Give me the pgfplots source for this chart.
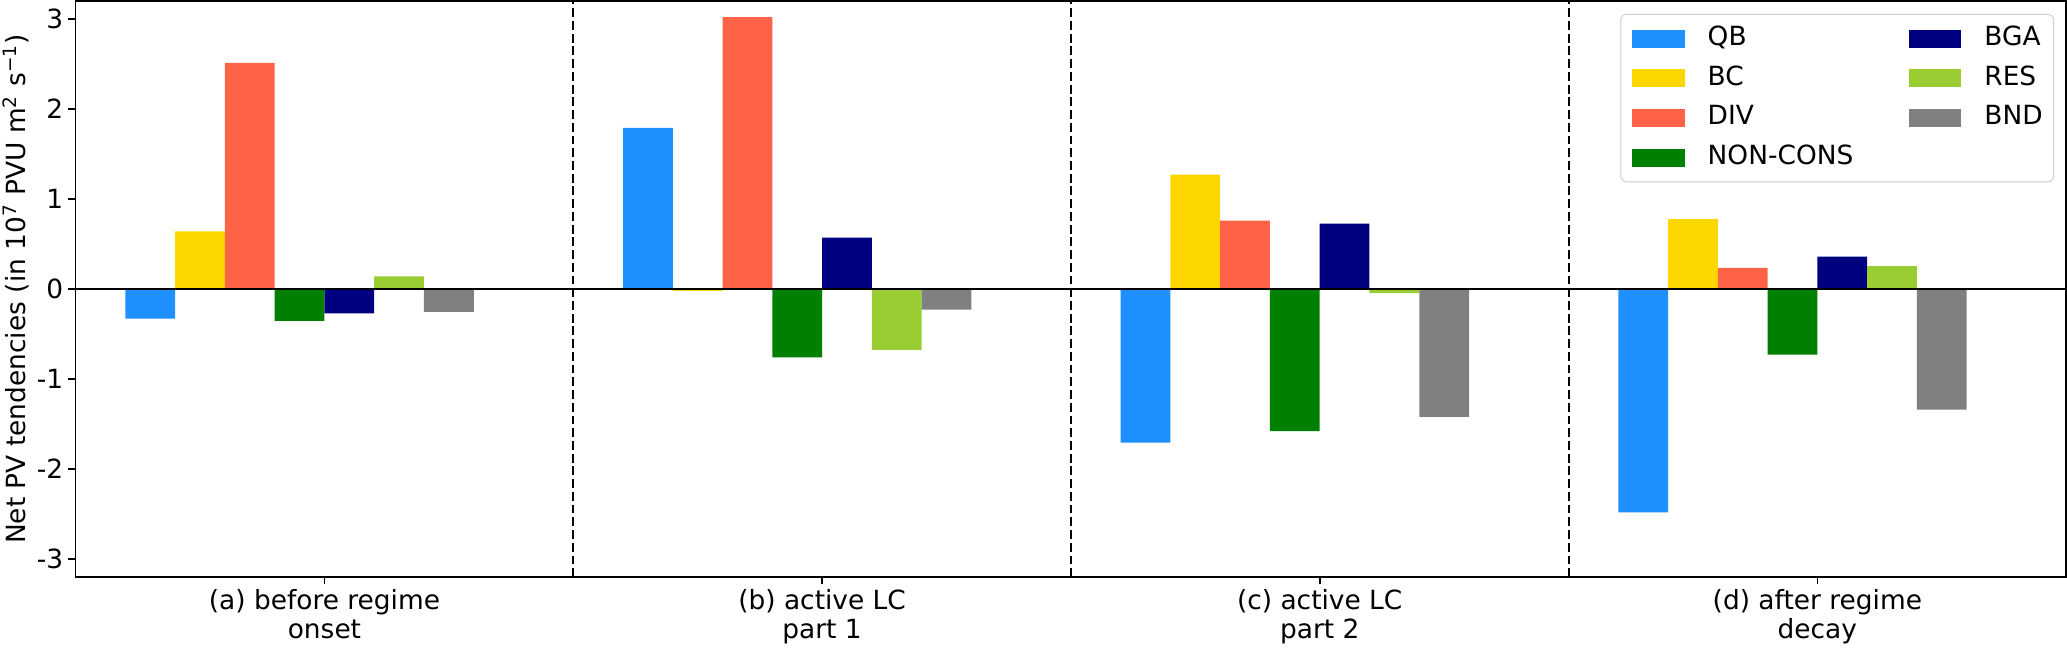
\documentclass[border=0pt]{standalone}
\usepackage{fontspec}
\setmainfont{DejaVu Sans}
\usepackage{pgfplots}
\pgfplotsset{compat=1.18}

\definecolor{cQB}{RGB}{30,144,255}
\definecolor{cBC}{RGB}{255,215,0}
\definecolor{cDIV}{RGB}{255,99,71}
\definecolor{cNC}{RGB}{0,128,0}
\definecolor{cBGA}{RGB}{0,0,128}
\definecolor{cRES}{RGB}{154,205,50}
\definecolor{cBND}{RGB}{128,128,128}

\pgfplotsset{
	pvbar/.style={ybar, bar shift=0pt, fill=#1, draw=none},
}

\begin{document}
\begin{tikzpicture}
	\begin{axis}[
	scale only axis,
	width=829pt, height=240pt,
	xmin=-0.5, xmax=3.5,
	ymin=-3.2, ymax=3.2,
	bar width=0.1,
	xtick={0,1,2,3},
	xticklabels={{(a) before regime\\onset},{(b) active LC\\part 1},{(c) active LC\\part 2},{(d) after regime\\decay}},
	ytick={-3,-2,-1,0,1,2,3},
	yticklabels={-3,-2,-1,0,1,2,3},
	xtick pos=bottom, ytick pos=left,
	tick align=outside,
	major tick length=3pt,
	tick style={black, line width=0.7pt},
	axis line style={line width=0.7pt},
	xticklabel style={align=center, font=\fontsize{11}{12}\selectfont, inner sep=2pt},
	yticklabel style={font=\fontsize{11}{13}\selectfont, inner sep=2pt},
	ylabel={Net PV tendencies (in 10\textsuperscript{7} PVU m\textsuperscript{2} s\textsuperscript{−1})},
	ylabel style={font=\fontsize{11}{13}\selectfont, inner sep=1pt},
	legend columns=2,
	legend cell align=left,
	legend image code/.code={\fill[#1, sharp corners] (0pt,-3.75pt) rectangle (22pt,3.75pt); \path (31.6pt,0pt);},
	legend style={
		at={([xshift=-5pt,yshift=-5.4pt]rel axis cs:1,1)}, anchor=north east,
		draw=black!20, rounded corners=2.5pt, fill=white,
		inner xsep=4.6pt, inner ysep=5pt,
		row sep=6.2pt,
		nodes={inner sep=0pt, text height=8pt, text depth=2.3pt},
		font=\fontsize{11}{13}\selectfont,
		/tikz/every even column/.append style={column sep=23pt},
	},
	]
	% group order: (a) before onset, (b) active LC 1, (c) active LC 2, (d) after decay
	\addplot[pvbar=cQB] coordinates {(-0.35,-0.33) (0.65,1.79) (1.65,-1.705) (2.65,-2.48)};
	\addlegendentry{QB}
	\addplot[pvbar=cBGA] coordinates {(0.05,-0.27) (1.05,0.57) (2.05,0.725) (3.05,0.36)};
	\addlegendentry{BGA}
	\addplot[pvbar=cBC] coordinates {(-0.25,0.64) (0.75,-0.02) (1.75,1.27) (2.75,0.775)};
	\addlegendentry{BC}
	\addplot[pvbar=cRES] coordinates {(0.15,0.14) (1.15,-0.675) (2.15,-0.045) (3.15,0.255)};
	\addlegendentry{RES}
	\addplot[pvbar=cDIV] coordinates {(-0.15,2.51) (0.85,3.02) (1.85,0.76) (2.85,0.235)};
	\addlegendentry{DIV}
	\addplot[pvbar=cBND] coordinates {(0.25,-0.255) (1.25,-0.23) (2.25,-1.42) (3.25,-1.34)};
	\addlegendentry{BND}
	\addplot[pvbar=cNC] coordinates {(-0.05,-0.355) (0.95,-0.76) (1.95,-1.58) (2.95,-0.73)};
	\addlegendentry{NON-CONS}

	% separators and zero line
	\addplot[black, line width=0.85pt, dash pattern=on 3.7pt off 1.6pt, forget plot] coordinates {(0.5,-3.2) (0.5,3.2)};
	\addplot[black, line width=0.85pt, dash pattern=on 3.7pt off 1.6pt, forget plot] coordinates {(1.5,-3.2) (1.5,3.2)};
	\addplot[black, line width=0.85pt, dash pattern=on 3.7pt off 1.6pt, forget plot] coordinates {(2.5,-3.2) (2.5,3.2)};
	\addplot[black, line width=1.1pt, forget plot] coordinates {(-0.5,0) (3.5,0)};
	\end{axis}
\end{tikzpicture}
\end{document}
